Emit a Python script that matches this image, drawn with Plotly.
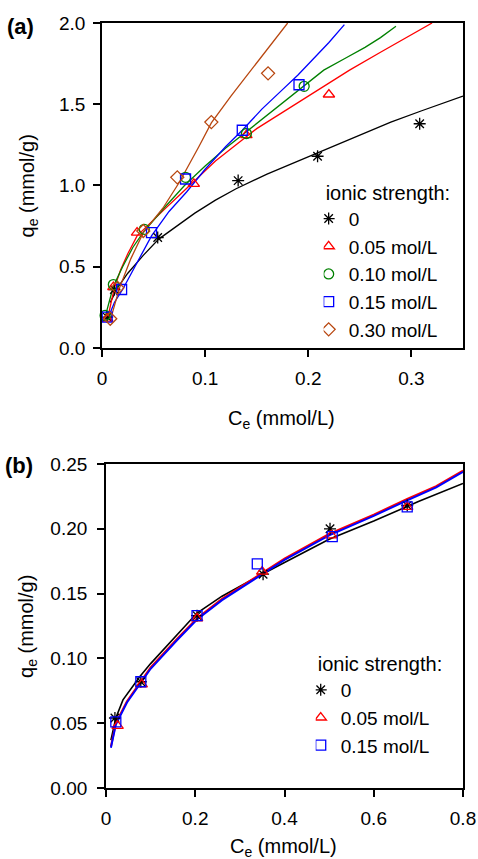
import plotly.graph_objects as go

# ---------------- Panel (a) data ----------------
series_a = ["0", "0.05 mol/L", "0.10 mol/L", "0.15 mol/L", "0.30 mol/L"]
colors_a = ["#000000", "#FF0000", "#008000", "#0000FF", "#B8460F"]
symbols_a = ["asterisk-open", "triangle-up-open", "circle-open", "square-open", "diamond-open"]

# measured points (Ce, qe)
a_pts_x = [
    [0.005, 0.012, 0.054, 0.132, 0.209, 0.308],
    [0.005, 0.011, 0.034, 0.089, 0.140, 0.220],
    [0.003, 0.011, 0.041, 0.081, 0.140, 0.196],
    [0.005, 0.019, 0.048, 0.081, 0.136, 0.191],
    [0.008, 0.015, 0.040, 0.073, 0.106, 0.161],
]
a_pts_y = [
    [0.19, 0.36, 0.68, 1.03, 1.18, 1.38],
    [0.18, 0.375, 0.71, 1.01, 1.31, 1.56],
    [0.20, 0.39, 0.73, 1.05, 1.32, 1.61],
    [0.19, 0.36, 0.71, 1.04, 1.34, 1.62],
    [0.18, 0.37, 0.72, 1.05, 1.39, 1.69],
]
# model curves
a_fit_x = [
    [0.008, 0.015, 0.025, 0.04, 0.055, 0.07, 0.09, 0.11, 0.13, 0.16, 0.19, 0.22, 0.25, 0.28, 0.31, 0.35],
    [0.005, 0.012, 0.018, 0.025, 0.034, 0.045, 0.06, 0.075, 0.09, 0.11, 0.13, 0.15, 0.18, 0.21, 0.24, 0.27, 0.30, 0.32],
    [0.003, 0.011, 0.02, 0.03, 0.041, 0.06, 0.08, 0.10, 0.12, 0.14, 0.16, 0.18, 0.196, 0.215, 0.235, 0.255, 0.27, 0.285],
    [0.005, 0.012, 0.02, 0.03, 0.048, 0.065, 0.082, 0.10, 0.12, 0.136, 0.155, 0.175, 0.19, 0.205, 0.22, 0.235],
    [0.008, 0.017, 0.028, 0.04, 0.059, 0.075, 0.094, 0.106, 0.125, 0.141, 0.16, 0.18],
]
a_fit_y = [
    [0.28, 0.37, 0.46, 0.57, 0.67, 0.74, 0.83, 0.91, 0.98, 1.07, 1.15, 1.23, 1.31, 1.39, 1.46, 1.55],
    [0.17, 0.37, 0.48, 0.58, 0.69, 0.76, 0.85, 0.94, 1.03, 1.15, 1.25, 1.35, 1.47, 1.59, 1.71, 1.82, 1.93, 2.00],
    [0.19, 0.38, 0.50, 0.62, 0.72, 0.86, 1.00, 1.12, 1.23, 1.33, 1.43, 1.53, 1.61, 1.71, 1.78, 1.85, 1.91, 1.98],
    [0.17, 0.28, 0.36, 0.48, 0.69, 0.84, 0.96, 1.10, 1.24, 1.34, 1.47, 1.59, 1.68, 1.78, 1.88, 1.99],
    [0.17, 0.37, 0.55, 0.71, 0.86, 1.02, 1.24, 1.385, 1.55, 1.68, 1.84, 2.00],
]
a_xticks = [0, 0.1, 0.2, 0.3]
a_yticks = [0.0, 0.5, 1.0, 1.5, 2.0]

# ---------------- Panel (b) data ----------------
series_b = ["0", "0.05 mol/L", "0.15 mol/L"]
colors_b = ["#000000", "#FF0000", "#0000FF"]
symbols_b = ["asterisk-open", "triangle-up-open", "square-open"]
b_pts_x = [
    [0.020, 0.078, 0.204, 0.352, 0.502, 0.675],
    [0.026, 0.080, 0.204, 0.350, 0.505, 0.675],
    [0.022, 0.078, 0.204, 0.339, 0.507, 0.675],
]
b_pts_y = [
    [0.054, 0.082, 0.133, 0.165, 0.200, 0.218],
    [0.048, 0.080, 0.131, 0.167, 0.195, 0.217],
    [0.051, 0.082, 0.133, 0.173, 0.194, 0.217],
]
b_fit_x = [
    [0.011, 0.022, 0.038, 0.06, 0.076, 0.10, 0.148, 0.204, 0.26, 0.323, 0.40, 0.50, 0.60, 0.70, 0.80],
    [0.011, 0.022, 0.047, 0.076, 0.10, 0.159, 0.204, 0.26, 0.323, 0.40, 0.50, 0.60, 0.675, 0.74, 0.80],
    [0.011, 0.022, 0.047, 0.076, 0.10, 0.159, 0.204, 0.26, 0.323, 0.40, 0.50, 0.60, 0.675, 0.74, 0.80],
]
b_fit_y = [
    [0.037, 0.054, 0.068, 0.079, 0.086, 0.096, 0.114, 0.135, 0.148, 0.160, 0.174, 0.192, 0.206, 0.221, 0.235],
    [0.032, 0.050, 0.067, 0.081, 0.093, 0.115, 0.131, 0.146, 0.160, 0.177, 0.196, 0.211, 0.223, 0.233, 0.245],
    [0.031, 0.049, 0.066, 0.080, 0.092, 0.114, 0.130, 0.145, 0.159, 0.176, 0.195, 0.210, 0.222, 0.232, 0.244],
]
b_xticks = [0, 0.2, 0.4, 0.6, 0.8]
b_yticks = [0.00, 0.05, 0.10, 0.15, 0.20, 0.25]

FONT = "Liberation Sans, Arial, sans-serif"
fig = go.Figure()

for i in range(len(series_a)):
    fig.add_trace(go.Scatter(x=a_fit_x[i], y=a_fit_y[i], mode="lines",
                             line=dict(color=colors_a[i], width=1.3),
                             showlegend=False, xaxis="x", yaxis="y", hoverinfo="skip"))
for i in range(len(series_a)):
    fig.add_trace(go.Scatter(x=a_pts_x[i], y=a_pts_y[i], mode="markers", name=series_a[i],
                             marker=dict(symbol=symbols_a[i], size=10, color=colors_a[i],
                                         line=dict(color=colors_a[i], width=1.3)),
                             cliponaxis=False, xaxis="x", yaxis="y", legend="legend"))

for i in range(len(series_b)):
    fig.add_trace(go.Scatter(x=b_fit_x[i], y=b_fit_y[i], mode="lines",
                             line=dict(color=colors_b[i], width=1.6 if i == 0 else 2),
                             showlegend=False, xaxis="x2", yaxis="y2", hoverinfo="skip"))
for i in range(len(series_b)):
    fig.add_trace(go.Scatter(x=b_pts_x[i], y=b_pts_y[i], mode="markers", name=series_b[i],
                             marker=dict(symbol=symbols_b[i], size=10, color=colors_b[i],
                                         line=dict(color=colors_b[i], width=1.3)),
                             cliponaxis=False, xaxis="x2", yaxis="y2", legend="legend2"))

axis_common = dict(showline=True, linecolor="black", linewidth=1.8, mirror=True,
                   ticks="outside", ticklen=7, tickwidth=1.5, tickcolor="black",
                   showgrid=False, zeroline=False, automargin=False,
                   tickfont=dict(family=FONT, size=19, color="black"))

fig.update_layout(
    width=478, height=859,
    margin=dict(l=102, r=15, t=23, b=71, autoexpand=False),
    paper_bgcolor="white", plot_bgcolor="white",
    font=dict(family=FONT, size=19, color="black"),
    xaxis=dict(domain=[0, 1], range=[0, 0.35], tickvals=a_xticks, anchor="y",
               ticklabelstandoff=5, **axis_common),
    yaxis=dict(domain=[0.5752, 1], range=[0, 2.0], tickvals=a_yticks, tickformat=".1f",
               anchor="x", ticklabelstandoff=4, **axis_common),
    xaxis2=dict(domain=[0.0111, 1], range=[0, 0.8], tickvals=b_xticks, anchor="y2",
                ticklabelstandoff=5, **axis_common),
    yaxis2=dict(domain=[0, 0.4235], range=[0, 0.25], tickvals=b_yticks, tickformat=".2f",
                anchor="x2", ticklabelstandoff=6, **axis_common),
    legend=dict(x=0.614, y=0.803, xanchor="left", yanchor="top",
                title=dict(text="ionic strength:", font=dict(family=FONT, size=20)),
                font=dict(family=FONT, size=19), bgcolor="rgba(0,0,0,0)",
                indentation=-15, itemwidth=30),
    legend2=dict(x=0.592, y=0.187, xanchor="left", yanchor="top",
                 title=dict(text="ionic strength:", font=dict(family=FONT, size=20)),
                 font=dict(family=FONT, size=19), bgcolor="rgba(0,0,0,0)",
                 indentation=-15, itemwidth=30),
    showlegend=True,
)

ann = [
    dict(text="<b>(a)</b>", x=-0.27, y=0.996, xanchor="left", yanchor="middle", font=dict(size=22)),
    dict(text="<b>(b)</b>", x=-0.273, y=0.421, xanchor="left", yanchor="middle", font=dict(size=22)),
    dict(text="q<sub>e</sub> (mmol/g)", x=-0.205, y=0.7876, textangle=-90, xanchor="center", yanchor="middle", font=dict(size=20)),
    dict(text="q<sub>e</sub> (mmol/g)", x=-0.205, y=0.2118, textangle=-90, xanchor="center", yanchor="middle", font=dict(size=20)),
    dict(text="C<sub>e</sub> (mmol/L)", x=0.4986, y=0.482, xanchor="center", yanchor="middle", font=dict(size=20)),
    dict(text="C<sub>e</sub> (mmol/L)", x=0.504, y=-0.078, xanchor="center", yanchor="middle", font=dict(size=20)),
]
for a in ann:
    a.update(xref="paper", yref="paper", showarrow=False)
    a["font"].update(family=FONT, color="black")
fig.update_layout(annotations=ann)

fig.write_html("out.html", config={"displayModeBar": False},
               post_script="document.body.style.margin='0px';")
